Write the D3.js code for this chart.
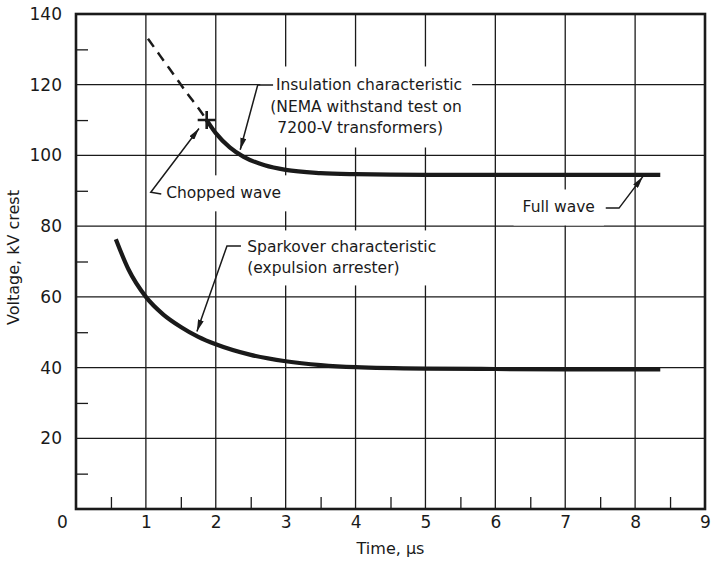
<!DOCTYPE html>
<html>
<head>
<meta charset="utf-8">
<script src="https://cdn.jsdelivr.net/npm/d3@7"></script>
<style>
  body { margin: 0; background: #fff; }
  svg { display: block; font-family: 'DejaVu Sans', sans-serif; }
</style>
</head>
<body>
<div id="viz"></div>
<script>
// Data (time in µs, voltage in kV crest)
const insulationDashedTime = [1.03, 1.2, 1.4, 1.6, 1.75, 1.87];
const insulationDashedKv   = [133, 128.3, 122.8, 117.3, 113.4, 110];
const insulationTime = [1.87, 2.0, 2.2, 2.4, 2.7, 3.0, 3.5, 4.0, 5.0, 6.0, 7.0, 8.36];
const insulationKv   = [110, 106.3, 102.3, 99.6, 97.2, 95.9, 95.0, 94.7, 94.5, 94.5, 94.5, 94.5];
const sparkoverTime = [0.57, 0.75, 1.0, 1.25, 1.5, 1.75, 2.0, 2.5, 3.0, 3.5, 4.0, 5.0, 6.0, 7.0, 8.36];
const sparkoverKv   = [76.3, 67.8, 60, 55, 51.5, 48.7, 46.6, 43.6, 41.8, 40.7, 40.1, 39.7, 39.6, 39.5, 39.5];
const choppedPoint = [1.87, 110];

const xTicks = [0, 1, 2, 3, 4, 5, 6, 7, 8, 9];
const xMinor = [0.5, 1.5, 2.5, 3.5, 4.5, 5.5, 6.5, 7.5, 8.5];
const yTicks = [20, 40, 60, 80, 100, 120, 140];
const yMinor = [10, 30, 50, 70, 90, 110, 130];

const insulationLabel = ['Insulation characteristic', '(NEMA withstand test on', '7200-V transformers)'];
const sparkoverLabel = ['Sparkover characteristic', '(expulsion arrester)'];
const choppedLabel = 'Chopped wave';
const fullLabel = 'Full wave';
const xTitle = 'Time, \u03bcs';
const yTitle = 'Voltage, kV crest';

const width = 711;
const height = 563;
const margin = {top: 14, right: 6, bottom: 54, left: 76};
const ink = '#1a1a1a';

const xScale = d3.scaleLinear().domain([0, 9]).range([margin.left, width - margin.right]);
const yScale = d3.scaleLinear().domain([0, 140]).range([height - margin.bottom, margin.top]);

const svg = d3.select('#viz')
  .append('svg')
    .attr('width', width)
    .attr('height', height);

// Grid lines
svg.append('g')
    .attr('class', 'grid-x')
  .selectAll('line')
  .data(xTicks.filter(d => d > 0 && d < 9))
  .join('line')
    .attr('x1', d => xScale(d)).attr('x2', d => xScale(d))
    .attr('y1', yScale(0)).attr('y2', yScale(140))
    .attr('stroke', ink).attr('stroke-width', 1.3);
svg.append('g')
    .attr('class', 'grid-y')
  .selectAll('line')
  .data(yTicks.filter(d => d < 140))
  .join('line')
    .attr('x1', xScale(0)).attr('x2', xScale(9))
    .attr('y1', d => yScale(d)).attr('y2', d => yScale(d))
    .attr('stroke', ink).attr('stroke-width', 1.3);

// Minor ticks (inside the frame)
svg.append('g')
    .attr('transform', `translate(${margin.left},0)`)
    .call(d3.axisRight(yScale).tickValues(yMinor).tickSize(12).tickFormat(''))
    .call(g => g.select('.domain').remove())
    .call(g => g.selectAll('line').attr('stroke', ink).attr('stroke-width', 1.3));
svg.append('g')
    .attr('transform', `translate(0,${yScale(0)})`)
    .call(d3.axisTop(xScale).tickValues(xMinor).tickSize(12).tickFormat(''))
    .call(g => g.select('.domain').remove())
    .call(g => g.selectAll('line').attr('stroke', ink).attr('stroke-width', 1.3));

// Tick labels
svg.append('g')
    .attr('transform', `translate(${margin.left},0)`)
    .call(d3.axisLeft(yScale).tickValues(yTicks).tickSize(0).tickPadding(14))
    .call(g => g.select('.domain').remove())
    .call(g => g.selectAll('text').attr('fill', ink).style('font-size', '17px').style('font-family', 'DejaVu Sans'));
svg.append('g')
    .attr('transform', `translate(0,${yScale(0)})`)
    .call(d3.axisBottom(xScale).tickValues(xTicks).tickSize(0).tickPadding(7))
    .call(g => g.select('.domain').remove())
    .call(g => g.selectAll('text').attr('fill', ink).style('font-size', '17px').style('font-family', 'DejaVu Sans'))
    .call(g => g.selectAll('.tick').filter(d => d === 0).select('text').attr('dx', -14));

// Axis titles
svg.append('text')
    .attr('x', (xScale(0) + xScale(9)) / 2)
    .attr('y', height - 9)
    .attr('text-anchor', 'middle')
    .attr('fill', ink)
    .style('font-size', '16px')
    .text(xTitle);
svg.append('text')
    .attr('transform', `translate(19,${(yScale(0) + yScale(140)) / 2 - 4}) rotate(-90)`)
    .attr('text-anchor', 'middle')
    .attr('fill', ink)
    .style('font-size', '16px')
    .text(yTitle);

// Annotation text with a white knockout behind it
const labelGroup = svg.append('g').attr('class', 'labels');
const addLabel = (lines, x, y, lineGap, pad) => {
  const g = labelGroup.append('g');
  const bg = g.append('rect').attr('fill', '#fff');
  g.selectAll('text')
    .data(lines)
    .join('text')
      .attr('x', (d, i) => xScale(x[i]))
      .attr('y', (d, i) => yScale(y) + i * lineGap)
      .attr('dy', '0.35em')
      .attr('fill', ink)
      .style('font-size', '15.5px')
      .text(d => d);
  const b = g.node().getBBox();
  bg.attr('x', b.x - pad).attr('y', b.y - pad)
    .attr('width', b.width + 2 * pad).attr('height', b.height + 2 * pad);
};
addLabel(insulationLabel, [2.86, 2.78, 2.88], 119.9, 21.5, 10);
addLabel(sparkoverLabel, [2.45, 2.45], 74.1, 21, 8);
addLabel([choppedLabel], [1.29], 89.4, 0, 9);
addLabel([fullLabel], [6.39], 85.4, 0, 9);

// Frame
svg.append('rect')
    .attr('x', xScale(0)).attr('y', yScale(140))
    .attr('width', xScale(9) - xScale(0)).attr('height', yScale(0) - yScale(140))
    .attr('fill', 'none').attr('stroke', ink).attr('stroke-width', 2.6);

// Curves
const line = d3.line()
  .x(d => xScale(d[0]))
  .y(d => yScale(d[1]))
  .curve(d3.curveMonotoneX);

svg.append('path')
    .attr('d', line(d3.zip(insulationDashedTime, insulationDashedKv)))
    .attr('fill', 'none').attr('stroke', ink)
    .attr('stroke-width', 2.5).attr('stroke-dasharray', '10,7');
svg.append('path')
    .attr('d', line(d3.zip(insulationTime, insulationKv)))
    .attr('fill', 'none').attr('stroke', ink)
    .attr('stroke-width', 4.2).attr('stroke-linecap', 'butt');
svg.append('path')
    .attr('d', line(d3.zip(sparkoverTime, sparkoverKv)))
    .attr('fill', 'none').attr('stroke', ink)
    .attr('stroke-width', 4.2).attr('stroke-linecap', 'butt');

// Chopped-wave cross
const cx = xScale(choppedPoint[0]);
const cy = yScale(choppedPoint[1]);
svg.append('path')
    .attr('d', `M${cx - 9},${cy}H${cx + 9}M${cx},${cy - 9}V${cy + 9}`)
    .attr('stroke', ink).attr('stroke-width', 2.6);

// Leader lines with arrowheads
svg.append('defs').append('marker')
    .attr('id', 'arrow')
    .attr('viewBox', '0 0 12 6')
    .attr('refX', 12).attr('refY', 3)
    .attr('markerWidth', 12).attr('markerHeight', 6)
    .attr('markerUnits', 'userSpaceOnUse')
    .attr('orient', 'auto')
  .append('path')
    .attr('d', 'M0,0L12,3L0,6Z')
    .attr('fill', ink);

const leader = d3.line().x(d => xScale(d[0])).y(d => yScale(d[1]));
const leaders = [
  [[2.82, 119.9], [2.60, 119.9], [2.35, 101.6]],
  [[1.22, 89.1], [1.07, 89.6], [1.76, 107.6]],
  [[7.58, 85.1], [7.77, 85.1], [8.11, 94.0]],
  [[2.36, 74.4], [2.16, 74.4], [1.73, 50.2]]
];
svg.append('g')
  .selectAll('path')
  .data(leaders)
  .join('path')
    .attr('d', d => leader(d))
    .attr('fill', 'none')
    .attr('stroke', ink)
    .attr('stroke-width', 1.5)
    .attr('marker-end', 'url(#arrow)');
</script>
</body>
</html>
